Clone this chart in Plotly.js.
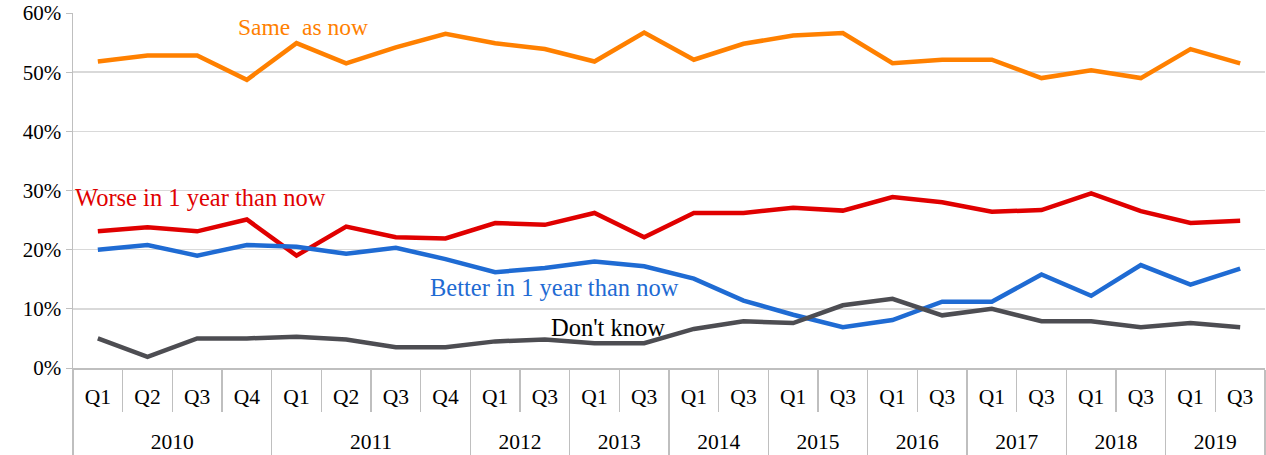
<!DOCTYPE html>
<html>
<head>
<meta charset="utf-8">
<script src="https://cdn.plot.ly/plotly-3.0.1.min.js"></script>
<style>html,body{margin:0;padding:0;background:#fff;}#chart{width:1266px;height:455px;}</style>
</head>
<body>
<div id="chart"></div>
<script>
const years = ["2010","2010","2010","2010","2011","2011","2011","2011","2012","2012","2013","2013","2014","2014","2015","2015","2016","2016","2017","2017","2018","2018","2019","2019"];
const quarters = ["Q1","Q2","Q3","Q4","Q1","Q2","Q3","Q4","Q1","Q3","Q1","Q3","Q1","Q3","Q1","Q3","Q1","Q3","Q1","Q3","Q1","Q3","Q1","Q3"];
const sameAsNow = [51.8,52.8,52.8,48.7,54.9,51.5,54.2,56.5,54.9,53.9,51.8,56.7,52.1,54.8,56.2,56.6,51.5,52.1,52.1,49.0,50.3,49.0,53.9,51.5];
const worse = [23.1,23.8,23.1,25.1,19.0,23.9,22.1,21.9,24.5,24.2,26.2,22.1,26.2,26.2,27.1,26.6,28.9,28.0,26.4,26.7,29.5,26.5,24.5,24.9];
const better = [20.0,20.8,19.0,20.8,20.5,19.3,20.3,18.4,16.2,16.9,18.0,17.2,15.1,11.4,9.0,6.9,8.1,11.2,11.2,15.8,12.2,17.4,14.1,16.8];
const dontKnow = [5.0,1.9,5.0,5.0,5.3,4.8,3.5,3.5,4.5,4.8,4.2,4.2,6.6,7.9,7.6,10.6,11.7,8.9,10.0,7.9,7.9,6.9,7.6,6.9];
const seriesNames = ["Same  as now","Worse in 1 year than now","Better in 1 year than now","Don't know"];
const colors = ["#ff8000","#e00000","#1f6bd3","#4d4d52"];

// year labels start one line lower, as the year row sits well below the quarter row in the original
const yearLabels = years.map(y => "<br>" + y);
const x = [yearLabels, quarters];
const vals = [sameAsNow, worse, better, dontKnow];
const traces = vals.map((v,i)=>({
  type:"scatter", mode:"lines", x:x, y:v.map(d=>d/100), name:seriesNames[i],
  line:{color:colors[i], width:4.5}, hoverinfo:"y"
}));

const font = "Liberation Serif";
const layout = {
  width:1266, height:455,
  margin:{l:73, r:1, t:13, b:87},
  paper_bgcolor:"#fff", plot_bgcolor:"#fff",
  showlegend:false,
  font:{family:font, size:21, color:"#000"},
  xaxis:{
    type:"multicategory",
    range:[-0.5, 23.5],
    tickmode:"linear", dtick:1, tick0:0,
    showgrid:false, zeroline:false,
    showline:true, linecolor:"#bfbfbf", linewidth:1.5,
    ticks:"outside", tickson:"boundaries", ticklen:42, tickcolor:"#bfbfbf", tickwidth:1.5,
    ticklabelstandoff:9,
    showdividers:true, dividercolor:"#bfbfbf", dividerwidth:1.5,
    tickfont:{family:font, size:21.5, color:"#000"}
  },
  yaxis:{
    range:[0,0.6], tickvals:[0,0.1,0.2,0.3,0.4,0.5,0.6],
    tickformat:".0%", ticksuffix:"\u00a0\u00a0",
    showgrid:true, gridcolor:"#d9d9d9", gridwidth:1.5,
    zeroline:false, showline:true, linecolor:"#bfbfbf", linewidth:1.5,
    ticks:"outside", ticklen:6, tickcolor:"#bfbfbf",
    tickfont:{family:font, size:21, color:"#000"}
  },
  annotations:[
    {text:seriesNames[0], xref:"paper", yref:"paper", x:0.137, y:0.961, xanchor:"left", yanchor:"middle", showarrow:false, font:{family:font, size:23.5, color:colors[0]}},
    {text:seriesNames[1], xref:"paper", yref:"paper", x:0.0, y:0.479, xanchor:"left", yanchor:"middle", showarrow:false, font:{family:font, size:24.5, color:colors[1]}},
    {text:seriesNames[2], xref:"paper", yref:"paper", x:0.298, y:0.228, xanchor:"left", yanchor:"middle", showarrow:false, font:{family:font, size:24.5, color:colors[2]}},
    {text:seriesNames[3], xref:"paper", yref:"paper", x:0.399, y:0.113, xanchor:"left", yanchor:"middle", showarrow:false, font:{family:font, size:24.5, color:"#000"}}
  ]
};
Plotly.newPlot("chart", traces, layout, {displayModeBar:false, staticPlot:true});
</script>
</body>
</html>
